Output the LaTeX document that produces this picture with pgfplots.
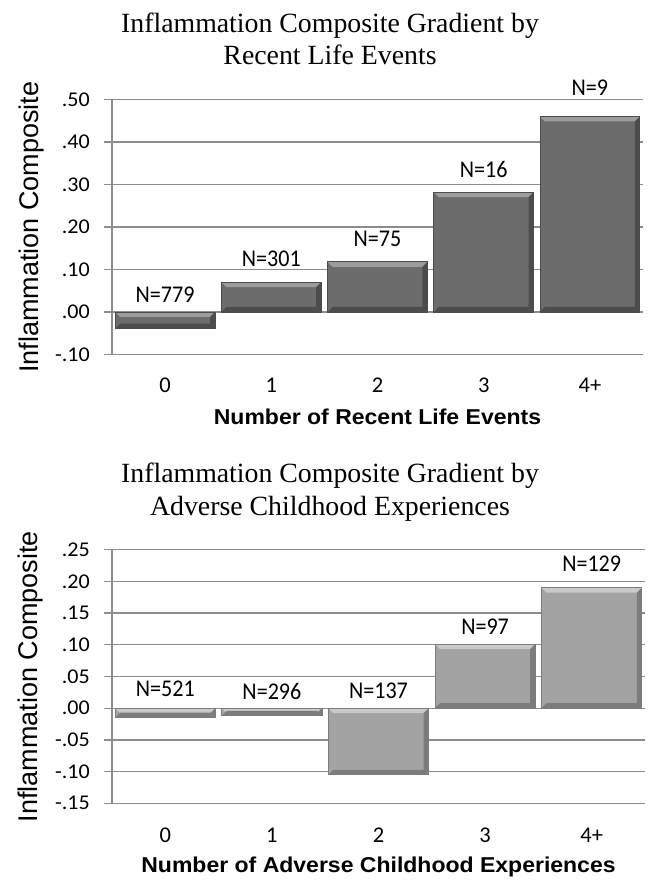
\documentclass[border=0pt]{standalone}
\usepackage{pgfplots}
\pgfplotsset{compat=1.18}
\usepackage{fontspec}
\setmainfont{Liberation Serif}
\newfontfamily\titlefont{Liberation Serif}
\newfontfamily\ylabfont{Liberation Sans}[FakeStretch=1.0]
\newfontfamily\xlabfont{Liberation Sans}[FakeStretch=1.07]
\newfontfamily\calibri{Carlito}[FakeStretch=1.05]
\newfontfamily\calibrin{Carlito}[FakeStretch=0.92]
\newfontfamily\calibrix{Carlito}
\definecolor{gridc}{HTML}{8C8C8C}
\definecolor{topface}{HTML}{6C6C6C}
\definecolor{toplight}{HTML}{9C9C9C}
\definecolor{topdark}{HTML}{4C4C4C}
\definecolor{botface}{HTML}{A3A3A3}
\definecolor{botlight}{HTML}{CACACA}
\definecolor{botdark}{HTML}{7C7C7C}
\newif\ifinbevel
\tikzset{bevel/.style n args={4}{fill=#1, draw=#4, line width=0.8pt,
  path picture={\ifinbevel\else\inbeveltrue
   \fill[#2, draw=none] (path picture bounding box.north west) -- (path picture bounding box.north east) -- ([shift={(-5pt,-5pt)}]path picture bounding box.north east) -- ([shift={(5pt,-5pt)}]path picture bounding box.north west) -- cycle;
   \fill[#3, draw=none] (path picture bounding box.south west) -- (path picture bounding box.south east) -- ([shift={(-5pt,5pt)}]path picture bounding box.south east) -- ([shift={(5pt,5pt)}]path picture bounding box.south west) -- cycle;
   \fill[#4, draw=none] (path picture bounding box.north east) -- (path picture bounding box.south east) -- ([shift={(-5pt,5pt)}]path picture bounding box.south east) -- ([shift={(-5pt,-5pt)}]path picture bounding box.north east) -- cycle;
  \fi}},
  nlab/.style={font=\calibrin\fontsize{24}{24}\selectfont, anchor=center},
  ttl/.style={font=\titlefont\fontsize{27.8}{27.8}\selectfont, anchor=base}}
\pgfplotsset{
  mychart/.style={
    scale only axis,
    xmin=-0.5, xmax=4.5,
    xtick={0,1,2,3,4}, xticklabels={0,1,2,3,4+},
    axis y line*=left, axis x line*=bottom,
    ymajorgrids,
    grid style={gridc, line width=1.3pt},
    axis line style={gridc, line width=1.3pt},
    x axis line style={draw=none},
    xtick style={draw=none},
    ytick style={gridc, line width=1.3pt},
    tick align=outside,
    major tick length=8pt,
    yticklabel style={font=\calibri\fontsize{21}{21}\selectfont, anchor=east, inner sep=0pt, xshift=-14pt},
    xticklabel style={font=\calibrix\fontsize{22.5}{22.5}\selectfont, anchor=center},
    ylabel style={font=\ylabfont\fontsize{27}{27}\selectfont, at={(axis description cs:-0.1525,0.5)}, anchor=center},
    xlabel style={font=\xlabfont\bfseries\fontsize{21.5}{21.5}\selectfont, at={(axis description cs:0.5,0)}, anchor=base},
    ylabel={Inflammation Composite},
    clip=false,
  }
}
\begin{document}
\begin{tikzpicture}
\path[use as bounding box] (0,0) rectangle (648pt,880pt);
\node[ttl] at (330pt,847.7pt) {Inflammation Composite Gradient by};
\node[ttl] at (330pt,815pt) {Recent Life Events};
\begin{axis}[mychart,
  at={(112pt,525.5pt)}, anchor=south west,
  width=531pt, height=255pt,
  ymin=-0.1, ymax=0.5,
  ytick={-0.1,0,0.1,0.2,0.3,0.4,0.5},
  yticklabels={-.10,.00,.10,.20,.30,.40,.50},
  xticklabel style={yshift=-22.5pt},
  xlabel style={yshift=-70.5pt},
  xlabel={Number of Recent Life Events},
]
\addplot[ybar, bar width=0.94, bar shift=0pt, bevel={topface}{toplight}{topdark}{topdark}] coordinates {(0,-0.039)};
\addplot[ybar, bar width=0.94, bar shift=0pt, bevel={topface}{toplight}{topdark}{topdark}] coordinates {(1,0.070)};
\addplot[ybar, bar width=0.94, bar shift=0pt, bevel={topface}{toplight}{topdark}{topdark}] coordinates {(2,0.118)};
\addplot[ybar, bar width=0.94, bar shift=0pt, bevel={topface}{toplight}{topdark}{topdark}] coordinates {(3,0.282)};
\addplot[ybar, bar width=0.94, bar shift=0pt, bevel={topface}{toplight}{topdark}{topdark}] coordinates {(4,0.460)};
\node[nlab] at (axis cs:0,0.040) {N=779};
\node[nlab] at (axis cs:1,0.125) {N=301};
\node[nlab] at (axis cs:2,0.172) {N=75};
\node[nlab] at (axis cs:3,0.336) {N=16};
\node[nlab] at (axis cs:4,0.527) {N=9};
\end{axis}
\node[ttl] at (330pt,397.5pt) {Inflammation Composite Gradient by};
\node[ttl] at (330pt,364.8pt) {Adverse Childhood Experiences};
\begin{axis}[mychart,
  at={(112pt,76.7pt)}, anchor=south west,
  width=533pt, height=253.6pt,
  ymin=-0.15, ymax=0.25,
  ytick={-0.15,-0.1,-0.05,0,0.05,0.1,0.15,0.2,0.25},
  yticklabels={-.15,-.10,-.05,.00,.05,.10,.15,.20,.25},
  xticklabel style={yshift=-23.7pt},
  xlabel style={yshift=-69.4pt},
  xlabel={Number of Adverse Childhood Experiences},
]
\addplot[ybar, bar width=0.94, bar shift=0pt, bevel={botface}{botlight}{botdark}{botdark}] coordinates {(0,-0.015)};
\addplot[ybar, bar width=0.94, bar shift=0pt, bevel={botface}{botlight}{botdark}{botdark}] coordinates {(1,-0.012)};
\addplot[ybar, bar width=0.94, bar shift=0pt, bevel={botface}{botlight}{botdark}{botdark}] coordinates {(2,-0.105)};
\addplot[ybar, bar width=0.94, bar shift=0pt, bevel={botface}{botlight}{botdark}{botdark}] coordinates {(3,0.101)};
\addplot[ybar, bar width=0.94, bar shift=0pt, bevel={botface}{botlight}{botdark}{botdark}] coordinates {(4,0.190)};
\node[nlab] at (axis cs:0,0.030) {N=521};
\node[nlab] at (axis cs:1,0.027) {N=296};
\node[nlab] at (axis cs:2,0.027) {N=137};
\node[nlab] at (axis cs:3,0.129) {N=97};
\node[nlab] at (axis cs:4,0.2275) {N=129};
\end{axis}
\end{tikzpicture}
\end{document}
